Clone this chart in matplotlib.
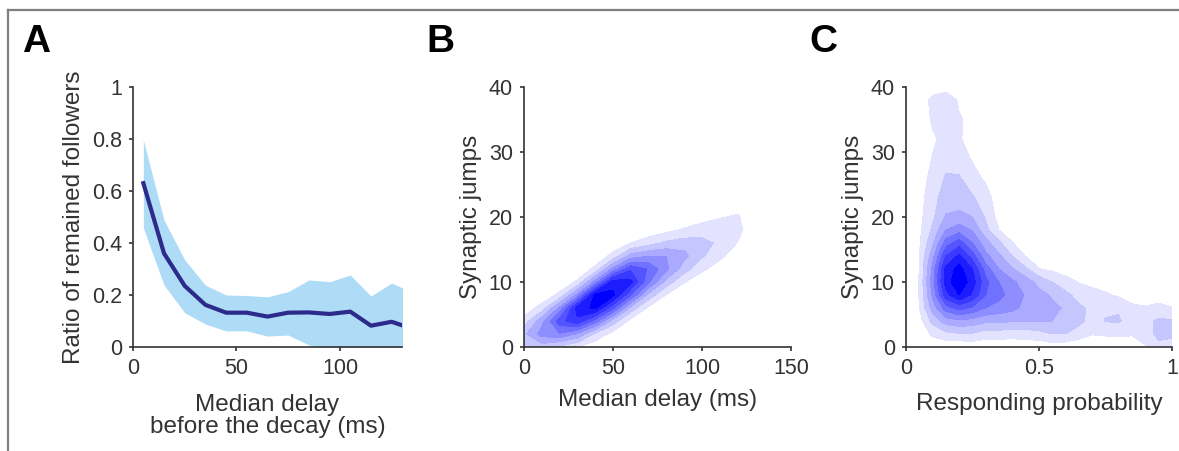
import numpy as np
import matplotlib.pyplot as plt
from matplotlib.lines import Line2D
from matplotlib.ticker import FormatStrFormatter

plt.rcParams['font.family'] = ['Liberation Sans', 'DejaVu Sans']

# Panel A: ratio of remained followers vs median delay
delay_a = [5, 15, 25, 35, 45, 55, 65, 75, 85, 95, 105, 115, 125, 135]
ratio_mean = [0.63, 0.36, 0.235, 0.162, 0.132, 0.132, 0.117, 0.132, 0.133, 0.127, 0.136, 0.082, 0.097, 0.07]
ratio_upper = [0.796, 0.488, 0.335, 0.238, 0.20, 0.198, 0.193, 0.213, 0.258, 0.251, 0.277, 0.196, 0.246, 0.21]
ratio_lower = [0.458, 0.238, 0.132, 0.088, 0.062, 0.062, 0.042, 0.046, 0.008, -0.02, -0.03, -0.05, -0.05, -0.05]

# Panel B: density of synaptic jumps vs median delay (levels)
delay_b = [0, 10, 20, 30, 40, 50, 60, 70, 80, 90, 100, 110, 120, 130, 140, 150]
jumps_b = [0, 2, 4, 6, 8, 10, 12, 14, 16, 18, 20, 22, 24]
dens_b = [
    [2.76, 2.49, 1.73, 1.00, 0.34, 0.09, 0, 0, 0, 0, 0, 0, 0, 0, 0, 0],
    [2.76, 4.40, 4.89, 3.89, 1.83, 0.62, 0.11, 0.02, 0, 0, 0, 0, 0, 0, 0, 0],
    [1.40, 3.64, 6.57, 7.78, 5.51, 2.56, 0.69, 0.15, 0.02, 0, 0, 0, 0, 0, 0, 0],
    [0.36, 1.41, 4.21, 8.50, 9.21, 6.29, 2.62, 0.81, 0.20, 0.04, 0, 0, 0, 0, 0, 0],
    [0.05, 0.26, 1.28, 4.29, 9.30, 9.25, 6.01, 2.67, 0.94, 0.26, 0.08, 0, 0, 0, 0, 0],
    [0, 0.02, 0.19, 1.18, 4.42, 8.60, 8.27, 5.17, 2.60, 1.06, 0.40, 0.14, 0, 0, 0, 0],
    [0, 0, 0.01, 0.17, 1.27, 4.28, 6.83, 5.90, 4.22, 2.47, 1.20, 0.52, 0.14, 0, 0, 0],
    [0, 0, 0, 0.01, 0.20, 1.35, 3.39, 3.97, 3.99, 3.30, 2.15, 1.23, 0.47, 0.10, 0, 0],
    [0, 0, 0, 0, 0.02, 0.25, 1.01, 1.57, 2.21, 2.54, 2.33, 1.81, 0.97, 0.20, 0, 0],
    [0, 0, 0, 0, 0, 0.03, 0.18, 0.37, 0.72, 1.12, 1.51, 1.65, 1.29, 0.28, 0, 0],
    [0, 0, 0, 0, 0, 0, 0.02, 0.05, 0.14, 0.29, 0.59, 0.93, 1.11, 0.30, 0, 0],
    [0, 0, 0, 0, 0, 0, 0, 0, 0.02, 0.04, 0.14, 0.32, 0.61, 0.22, 0, 0],
    [0, 0, 0, 0, 0, 0, 0, 0, 0, 0, 0.02, 0.07, 0.21, 0.10, 0, 0],
]

# Panel C: density of synaptic jumps vs responding probability (one list per x column)
prob_c = [0, 0.05, 0.10, 0.15, 0.20, 0.25, 0.30, 0.35, 0.40, 0.45, 0.50,
          0.55, 0.60, 0.65, 0.70, 0.75, 0.80, 0.85, 0.90, 0.95, 1.00]
jumps_c = [0, 2, 4, 6, 8, 10, 12, 14, 16, 18, 20, 23, 26, 29, 32, 35, 38, 41]
dens_c_cols = [
    [0, 0, 0, 0, 0, 0, 0, 0, 0, 0, 0, 0, 0, 0, 0, 0, 0, 0],
    [0, 0.2, 0.6, 0.95, 1.05, 1.05, 1.0, 0.95, 0.85, 0.75, 0.7, 0.6, 0.45, 0.3, 0.2, 0.3, 0.3, 0],
    [0.3, 1.2, 2.3, 3.4, 4.2, 4.5, 4.3, 3.6, 2.8, 2.2, 1.8, 1.6, 1.35, 1.05, 0.85, 1.15, 1.3, 0],
    [0.3, 1.7, 3.5, 5.5, 7.6, 8.5, 8.3, 7.0, 5.5, 4.0, 3.1, 2.5, 2.1, 1.7, 1.3, 1.5, 1.7, 0],
    [0.2, 1.9, 3.8, 6.4, 9.0, 9.8, 9.4, 8.2, 6.5, 4.6, 3.2, 2.6, 2.1, 1.5, 1.1, 1.1, 0.85, 0],
    [0.3, 1.9, 3.6, 5.8, 7.8, 8.5, 8.0, 6.5, 5.0, 3.9, 3.0, 2.1, 1.4, 0.9, 0.6, 0.75, 0.5, 0],
    [0.3, 1.5, 3.2, 5.0, 6.0, 6.3, 5.5, 4.3, 3.4, 2.3, 1.9, 1.5, 0.8, 0.4, 0.2, 0.2, 0.1, 0],
    [0.3, 1.5, 3.2, 4.6, 5.3, 5.0, 4.0, 3.2, 2.2, 1.0, 0.6, 0.3, 0, 0, 0, 0, 0, 0],
    [0.3, 1.4, 3.1, 4.3, 4.6, 4.2, 3.1, 2.0, 1.05, 0.5, 0.2, 0, 0, 0, 0, 0, 0, 0],
    [0.35, 1.5, 3.0, 3.7, 3.9, 3.5, 2.2, 0.95, 0.4, 0.1, 0, 0, 0, 0, 0, 0, 0, 0],
    [0.35, 1.6, 3.1, 3.4, 3.3, 2.7, 1.05, 0.4, 0.1, 0, 0, 0, 0, 0, 0, 0, 0, 0],
    [0.5, 2.0, 3.0, 3.2, 2.9, 2.0, 0.8, 0.3, 0, 0, 0, 0, 0, 0, 0, 0, 0, 0],
    [0.4, 2.0, 2.8, 2.9, 2.3, 1.35, 0.6, 0.2, 0, 0, 0, 0, 0, 0, 0, 0, 0, 0],
    [0.3, 1.5, 2.3, 2.2, 1.6, 0.95, 0.4, 0.1, 0, 0, 0, 0, 0, 0, 0, 0, 0, 0],
    [0.2, 1.05, 1.6, 1.8, 1.4, 0.7, 0.2, 0, 0, 0, 0, 0, 0, 0, 0, 0, 0, 0],
    [0.2, 1.15, 2.05, 1.85, 1.15, 0.5, 0.1, 0, 0, 0, 0, 0, 0, 0, 0, 0, 0, 0],
    [0.2, 1.2, 2.1, 1.9, 0.85, 0.4, 0, 0, 0, 0, 0, 0, 0, 0, 0, 0, 0, 0],
    [0.4, 1.1, 1.55, 1.2, 0.6, 0.2, 0, 0, 0, 0, 0, 0, 0, 0, 0, 0, 0, 0],
    [0.9, 1.5, 1.7, 1.1, 0.4, 0.1, 0, 0, 0, 0, 0, 0, 0, 0, 0, 0, 0, 0],
    [1.7, 2.3, 2.2, 1.3, 0.5, 0, 0, 0, 0, 0, 0, 0, 0, 0, 0, 0, 0, 0],
    [1.6, 2.2, 2.1, 1.05, 0.4, 0, 0, 0, 0, 0, 0, 0, 0, 0, 0, 0, 0, 0],
]

levels = [1, 2, 3, 4, 5, 6, 7, 8, 9, 12]
band_colors = [(1 - t, 1 - t, 1.0) for t in np.arange(1, 10) / 9]

text_col = '#333333'
tick_fs = 15.5
label_fs = 17.5

fig = plt.figure(figsize=(11.79, 4.51), dpi=100)

def style(ax):
    for s in ['top', 'right']:
        ax.spines[s].set_visible(False)
    for s in ['left', 'bottom']:
        ax.spines[s].set_color(text_col)
        ax.spines[s].set_linewidth(1.2)
    ax.tick_params(direction='out', length=3, width=1.2, colors=text_col,
                   labelsize=tick_fs, pad=5)

# A
ax1 = fig.add_axes([0.1128, 0.2306, 0.2282, 0.5765])
ax1.fill_between(delay_a, ratio_lower, ratio_upper, color='#aedcf7', lw=0)
ax1.plot(delay_a, ratio_mean, color='#2c2a8a', lw=3)
ax1.set_xlim(0, 130)
ax1.set_ylim(0, 1)
ax1.set_xticks([0, 50, 100])
ax1.set_yticks([0, 0.2, 0.4, 0.6, 0.8, 1])
ax1.yaxis.set_major_formatter(FormatStrFormatter('%g'))
style(ax1)
ax1.set_xlabel('Median delay\nbefore the decay (ms)', fontsize=label_fs, color=text_col,
               labelpad=11, linespacing=1.0)
ax1.set_ylabel('Ratio of remained followers', fontsize=label_fs, color=text_col, labelpad=5)

# B
ax2 = fig.add_axes([0.4444, 0.2306, 0.2265, 0.5765])
ax2.contourf(delay_b, jumps_b, np.array(dens_b), levels=levels, colors=band_colors)
ax2.set_xlim(0, 150)
ax2.set_ylim(0, 40)
ax2.set_xticks([0, 50, 100, 150])
ax2.set_yticks([0, 10, 20, 30, 40])
style(ax2)
ax2.set_xlabel('Median delay (ms)', fontsize=label_fs, color=text_col, labelpad=7)
ax2.set_ylabel('Synaptic jumps', fontsize=label_fs, color=text_col, labelpad=5)

# C
ax3 = fig.add_axes([0.7684, 0.2306, 0.2256, 0.5765])
ax3.contourf(prob_c, jumps_c, np.array(dens_c_cols).T, levels=levels, colors=band_colors)
ax3.set_xlim(0, 1)
ax3.set_ylim(0, 40)
ax3.set_xticks([0, 0.5, 1])
ax3.set_yticks([0, 10, 20, 30, 40])
ax3.xaxis.set_major_formatter(FormatStrFormatter('%g'))
style(ax3)
ax3.set_xlabel('Responding probability', fontsize=label_fs, color=text_col, labelpad=10)
ax3.set_ylabel('Synaptic jumps', fontsize=label_fs, color=text_col, labelpad=5)

# panel letters
for lx, letter in [(22, 'A'), (426, 'B'), (809, 'C')]:
    fig.text(lx / 1179, 1 - 52 / 451, letter, fontsize=28, fontweight='bold',
             va='baseline', ha='left', color='black')

# grey frame on top and left
fig.add_artist(Line2D([8 / 1179, 8 / 1179], [0, 1 - 10 / 451], color='#7f7f7f',
                      lw=1.6, transform=fig.transFigure))
fig.add_artist(Line2D([8 / 1179, 1], [1 - 10 / 451, 1 - 10 / 451], color='#7f7f7f',
                      lw=1.6, transform=fig.transFigure))

fig.savefig('out.png', dpi=100, facecolor='white')
